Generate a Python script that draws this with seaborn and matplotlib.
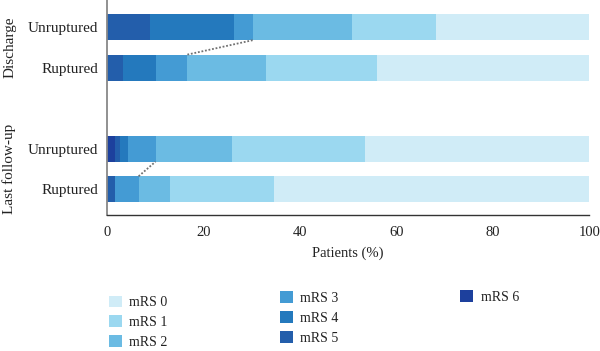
import seaborn as sns
import matplotlib.pyplot as plt
import matplotlib.transforms as mtrans
from matplotlib.patches import Patch
import numpy as np

# Datos (porcentaje de pacientes por grado mRS)
grupos = ["Discharge", "Last follow-up"]
filas = ["Unruptured", "Ruptured", "Unruptured", "Ruptured"]
posiciones = [0, 1, 3, 4]
niveles = ["mRS 6", "mRS 5", "mRS 4", "mRS 3", "mRS 2", "mRS 1", "mRS 0"]

mrs6 = [0.0, 0.0, 1.6, 0.0]
mrs5 = [9.0, 3.3, 1.2, 1.8]
mrs4 = [17.4, 6.8, 1.6, 0.0]
mrs3 = [4.0, 6.6, 5.7, 4.8]
mrs2 = [20.4, 16.4, 15.9, 6.6]
mrs1 = [17.5, 22.9, 27.6, 21.4]
mrs0 = [31.7, 44.0, 46.4, 65.4]

colores = {
    "mRS 0": "#d0ecf7",
    "mRS 1": "#9bd8f0",
    "mRS 2": "#6bbbe3",
    "mRS 3": "#449bd4",
    "mRS 4": "#2479bd",
    "mRS 5": "#235eab",
    "mRS 6": "#1d409d",
}

sns.set_style("white")
plt.rcParams["font.family"] = ["Liberation Serif", "DejaVu Serif"]

fig = plt.figure(figsize=(6, 3.51), dpi=100)
ax = fig.add_axes([0.178, 0.387, 0.804, 0.613])

alto = 0.64
valores = np.array([mrs6, mrs5, mrs4, mrs3, mrs2, mrs1, mrs0])
izquierda = np.zeros(len(filas))
for nivel, fila in zip(niveles, valores):
    ax.barh(posiciones, fila, left=izquierda, height=alto,
            color=colores[nivel], edgecolor="none")
    izquierda = izquierda + fila

# Lineas punteadas entre los finales de mRS 3
fin_mrs3 = valores[:4].sum(axis=0)
for a, b in [(0, 1), (2, 3)]:
    ax.plot([fin_mrs3[b], fin_mrs3[a]],
            [posiciones[b] - alto / 2, posiciones[a] + alto / 2],
            ls=(0, (1, 1)), color="#707070", lw=1.3)

ax.set_xlim(0, 100)
ax.set_ylim(4 + 0.64, -0.667)
ax.set_yticks(posiciones)
ax.set_yticklabels(filas, fontsize=11)
ax.set_xticks([0, 20, 40, 60, 80, 100])
ax.tick_params(axis="x", labelsize=10.5, length=4, width=1, colors="#333333",
               labelcolor="#222222", direction="out")
ax.tick_params(axis="y", length=0, pad=6, labelcolor="#222222")
ax.set_xlabel("Patients (%)", fontsize=10.5, color="#222222", labelpad=6)

sns.despine(ax=ax)
ax.spines["left"].set_color("#888888")
ax.spines["left"].set_linewidth(1.3)
ax.spines["bottom"].set_color("#333333")
ax.spines["bottom"].set_linewidth(1.0)

# Etiquetas de grupo
trans = mtrans.blended_transform_factory(fig.transFigure, ax.transData)
ax.text(0.016, 0.5, grupos[0], transform=trans, rotation=90,
        ha="center", va="center", fontsize=11, color="#222222")
ax.text(0.016, 3.5, grupos[1], transform=trans, rotation=90,
        ha="center", va="center", fontsize=11, color="#222222")

# Leyenda en tres columnas
columnas = [
    (["mRS 0", "mRS 1", "mRS 2"], (0.181, 0.158)),
    (["mRS 3", "mRS 4", "mRS 5"], (0.466, 0.170)),
    (["mRS 6"], (0.767, 0.173)),
]
for etiquetas, (x0, y0) in columnas:
    manijas = [Patch(facecolor=colores[e], edgecolor="none", label=e) for e in etiquetas]
    leg = fig.legend(handles=manijas, loc="upper left",
                     bbox_to_anchor=(x0, y0), frameon=False, fontsize=10,
                     handlelength=0.93, handleheight=0.93, handletextpad=0.55,
                     labelspacing=0.45, borderaxespad=0, borderpad=0)
    for t in leg.get_texts():
        t.set_color("#222222")

fig.savefig("out.png", dpi=100, facecolor="white")
